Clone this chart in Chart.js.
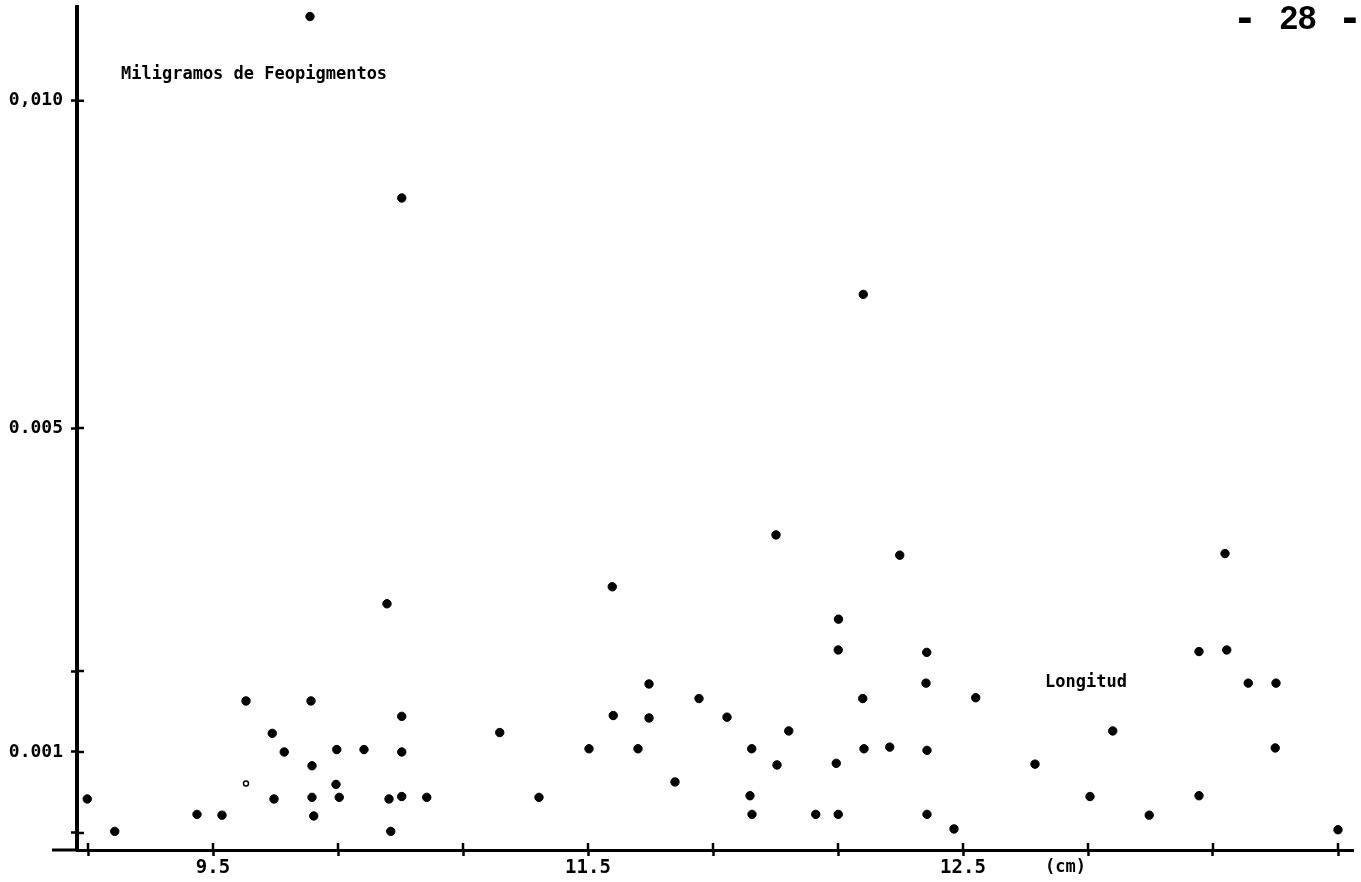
<!DOCTYPE html>
<html><head><meta charset="utf-8">
<script src="https://cdn.jsdelivr.net/npm/chart.js@4.4.1/dist/chart.umd.min.js"></script>
<style>html,body{margin:0;padding:0;background:#fff;overflow:hidden}canvas{display:block}</style>
</head><body>
<canvas id="c" width="1361" height="882"></canvas>
<script>
// Longitud (cm) of each sample
const lengthCm = [9.888, 10.255, 12.101, 11.752, 12.247, 13.548, 11.097, 10.196, 12.002, 12.001,
  12.355, 13.444, 13.555, 11.244, 12.352, 13.641, 13.752, 9.632, 9.892, 11.444,
  12.099, 12.551, 10.255, 11.101, 11.244, 11.556, 9.737, 10.647, 11.803, 13.099,
  9.785, 9.995, 10.104, 10.255, 11.004, 11.200, 11.655, 12.104, 12.207, 12.356,
  13.749, 9.896, 9.992, 11.756, 11.993, 12.788, 11.348, 8.997, 9.744, 9.896,
  10.005, 10.204, 10.255, 10.355, 10.804, 11.648, 13.008, 13.444, 9.436, 9.536,
  9.903, 11.656, 11.911, 12.001, 12.356, 13.245, 9.107, 10.211, 12.464, 14.000];
// Miligramos de Feopigmentos of each sample
const pheopigmentMg = [0.01008, 0.00784, 0.00665, 0.00368, 0.00343, 0.00345, 0.00304, 0.00283, 0.00264, 0.00226,
  0.00223, 0.00224, 0.00226, 0.00184, 0.00185, 0.00185, 0.00185, 0.00163, 0.00163, 0.00166,
  0.00166, 0.00167, 0.00144, 0.00145, 0.00142, 0.00143, 0.00123, 0.00124, 0.00126, 0.00126,
  0.00100, 0.00103, 0.00103, 0.00100, 0.00104, 0.00104, 0.00104, 0.00104, 0.00106, 0.00102,
  0.00105, 0.00083, 0.00060, 0.00084, 0.00086, 0.00085, 0.00063, 0.00042, 0.00042, 0.00044,
  0.00044, 0.00042, 0.00045, 0.00044, 0.00044, 0.00046, 0.00045, 0.00046, 0.00023, 0.00022,
  0.00021, 0.00023, 0.00023, 0.00023, 0.00023, 0.00022, 0.00002, 0.00002, 0.00005, 0.00004];
// faint open marker
const openLengthCm = [9.632];
const openPheopigmentMg = [0.00061];

const xTickValues = [9.0, 9.5, 10.0, 10.5, 11.0, 11.5, 12.0, 12.5, 13.0, 13.5, 14.0];
const xTickLabels = ['', '9.5', '', '', '11.5', '', '', '12.5', '', '', ''];
const yTickValues = [0, 0.001, 0.002, 0.005, 0.00904];
const yTickLabels = ['', '0.001', '', '0.005', '0,010'];
const xRange = [8.956, 14.06];
const yRange = [-0.00021, 0.010198];

const yTitle = 'Miligramos de Feopigmentos';
const xTitle = 'Longitud';
const xUnit = '(cm)';
const pageNumber = '28';

const points = lengthCm.map((x, i) => ({x, y: pheopigmentMg[i]}));
const openPoints = openLengthCm.map((x, i) => ({x, y: openPheopigmentMg[i]}));

const decor = {
  id: 'decor',
  afterDraw(chart) {
    const {ctx, chartArea: a, scales: {x, y}} = chart;
    ctx.save();
    ctx.strokeStyle = '#000';
    ctx.fillStyle = '#000';
    // x axis continues left of the y axis
    ctx.lineWidth = 3;
    ctx.beginPath(); ctx.moveTo(a.left - 25, a.bottom); ctx.lineTo(a.left, a.bottom); ctx.stroke();
    // inner half of tick marks
    ctx.lineWidth = 2.5;
    yTickValues.forEach(v => {
      const py = y.getPixelForValue(v);
      ctx.beginPath(); ctx.moveTo(a.left, py); ctx.lineTo(a.left + 7, py); ctx.stroke();
    });
    xTickValues.forEach(v => {
      const px = x.getPixelForValue(v);
      ctx.beginPath(); ctx.moveTo(px, a.bottom); ctx.lineTo(px, a.bottom - 7); ctx.stroke();
    });
    ctx.textBaseline = 'middle';
    ctx.textAlign = 'left';
    ctx.font = 'bold 17px "DejaVu Sans Mono"';
    ctx.fillText(yTitle, 121, 75);
    ctx.fillText(xTitle, 1045, 683);
    ctx.fillText(xUnit, 1045, 868);
    ctx.textAlign = 'center';
    ctx.font = 'bold 33px "Liberation Sans"';
    ctx.fillText(pageNumber, 1298, 20);
    ctx.font = 'bold 46px "Liberation Sans"';
    ctx.fillText('-', 1245, 19);
    ctx.fillText('-', 1350, 19);
    ctx.restore();
  }
};

new Chart(document.getElementById('c'), {
  type: 'scatter',
  data: {
    datasets: [
      {data: points, backgroundColor: '#000', borderColor: '#000', pointRadius: 4.2, pointHoverRadius: 4.2},
      {data: openPoints, backgroundColor: 'rgba(0,0,0,0)', borderColor: '#000', borderWidth: 1.5, pointRadius: 2.5}
    ]
  },
  options: {
    responsive: false,
    animation: false,
    events: [],
    layout: {padding: {left: 0, right: 8, top: 7, bottom: 0}},
    plugins: {legend: {display: false}, tooltip: {enabled: false}, title: {display: false}},
    scales: {
      x: {
        type: 'linear', position: 'bottom', min: xRange[0], max: xRange[1],
        afterBuildTicks: s => { s.ticks = xTickValues.map(v => ({value: v})); },
        afterFit: s => { s.height = 32; s.paddingLeft = 0; s.paddingRight = 0; },
        border: {display: true, color: '#000', width: 3},
        grid: {display: true, drawOnChartArea: false, drawTicks: true, tickLength: 6, tickWidth: 2.5, tickColor: '#000'},
        ticks: {autoSkip: false, maxRotation: 0, minRotation: 0, padding: 1, color: '#000',
          font: {family: 'DejaVu Sans Mono', size: 19, weight: 'bold'},
          callback: (v, i) => xTickLabels[i]}
      },
      y: {
        type: 'linear', position: 'left', min: yRange[0], max: yRange[1],
        afterBuildTicks: s => { s.ticks = yTickValues.map(v => ({value: v})); },
        afterFit: s => { s.width = 77; s.paddingTop = 0; s.paddingBottom = 0; },
        border: {display: true, color: '#000', width: 4},
        grid: {display: true, drawOnChartArea: false, drawTicks: true, tickLength: 6, tickWidth: 2.5, tickColor: '#000'},
        ticks: {autoSkip: false, padding: 8, color: '#000',
          font: {family: 'DejaVu Sans Mono', size: 18, weight: 'bold'},
          callback: (v, i) => yTickLabels[i]}
      }
    }
  },
  plugins: [decor]
});
</script>
</body></html>
